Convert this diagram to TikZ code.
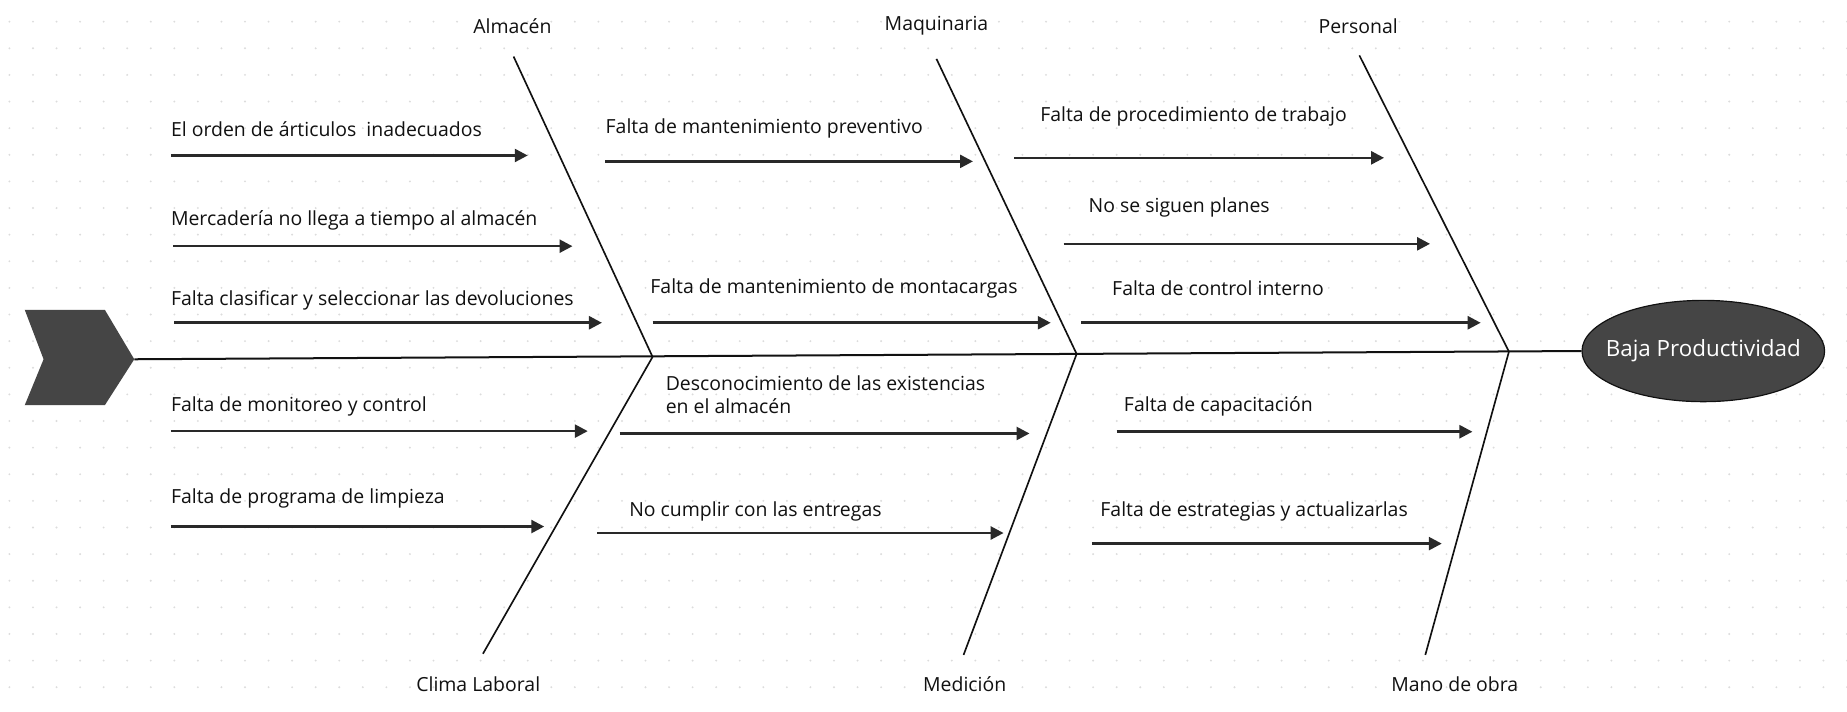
\documentclass[tikz,border=0pt]{standalone}
\usepackage{fontspec}
\setmainfont{Open Sans}
\usetikzlibrary{shapes.geometric,arrows.meta}
\definecolor{ink}{HTML}{111111}
\definecolor{dotc}{HTML}{DCDCDC}
\definecolor{headfill}{HTML}{454545}
\begin{document}
\begin{tikzpicture}[x=1pt,y=-1pt,
  cause/.style={anchor=west, inner sep=0pt, font=\fontsize{16.5}{20}\selectfont, text=ink},
  cat/.style={inner sep=0pt, font=\fontsize{16.5}{20}\selectfont, text=ink},
  bone/.style={line width=1.4pt, draw=ink},
  spine/.style={line width=1.7pt, draw=ink},
  causearrow/.style={line width=2.2pt, draw=ink!90, -{Triangle[length=11pt,width=11pt]}},
]
\useasboundingbox (0,0) rectangle (1568,604);
\fill[white] (0,0) rectangle (1568,604);
% dot grid
\foreach \i in {0,...,78}{
  \foreach \j in {0,...,26}{
    \fill[dotc] (\i*20+8, \j*22.6+18.4) circle (0.9pt);
  }
}
% head and effect
\coordinate (c1) at (21,263);
\coordinate (c2) at (89,263);
\coordinate (tail) at (114,305);
\coordinate (c4) at (89,344);
\coordinate (c5) at (21,344);
\coordinate (c6) at (37,305);
\fill[headfill] (c1) -- (c2) -- (tail) -- (c4) -- (c5) -- (c6) -- cycle;
\node[ellipse, draw=ink, line width=1pt, fill=headfill, minimum width=206pt, minimum height=86pt, inner sep=0pt] (ef) at (1446,298) {};
\node[text=white, inner sep=0pt, font=\fontsize{19}{23}\selectfont] (eft) at (ef.center) {Baja Productividad};
\draw[spine] (tail) -- (ef.west);

% junctions and bone ends
\coordinate (j1) at (554,303);
\coordinate (j2) at (914,300.5);
\coordinate (j3) at (1281,298.5);
\coordinate (t1) at (436,48);
\coordinate (t2) at (795,50);
\coordinate (t3) at (1154,47);
\coordinate (b1) at (410,555);
\coordinate (b2) at (818,556);
\coordinate (b3) at (1210,556);
\draw[bone] (t1) -- (j1);
\draw[bone] (t2) -- (j2);
\draw[bone] (t3) -- (j3);
\draw[bone] (j1) -- (b1);
\draw[bone] (j2) -- (b2);
\draw[bone] (j3) -- (b3);

% category labels
\node[cat] (lalm) at (435,22) {Almacén};
\node[cat] (lmaq) at (795,22) {Maquinaria};
\node[cat] (lper) at (1153,22) {Personal};
\node[cat] (lcli) at (406,581) {Clima Laboral};
\node[cat] (lmed) at (819,581) {Medición};
\node[cat] (lman) at (1235,581) {Mano de obra};

% causes: Almacén
\node[cause] (a1) at (145,110) {El orden de árticulos\ \ inadecuados};
\coordinate (a1s) at (145,132); \coordinate (a1e) at (448,132);
\draw[causearrow] (a1s) -- (a1e);
\node[cause] (a2) at (145,187) {Mercadería no llega a tiempo al almacén};
\coordinate (a2s) at (147,209); \coordinate (a2e) at (486,209);
\draw[causearrow] (a2s) -- (a2e);
\node[cause] (a3) at (145,255) {Falta clasificar y seleccionar las devoluciones};
\coordinate (a3s) at (148,274); \coordinate (a3e) at (511,274);
\draw[causearrow] (a3s) -- (a3e);
% Clima Laboral
\node[cause] (c1t) at (145,345) {Falta de monitoreo y control};
\coordinate (k1s) at (145,366); \coordinate (k1e) at (499,366);
\draw[causearrow] (k1s) -- (k1e);
\node[cause] (c2t) at (145,423) {Falta de programa de limpieza};
\coordinate (k2s) at (145,447); \coordinate (k2e) at (462,447);
\draw[causearrow] (k2s) -- (k2e);
% Maquinaria
\node[cause] (m1) at (514,109) {Falta de mantenimiento preventivo};
\coordinate (m1s) at (514,137); \coordinate (m1e) at (826,137);
\draw[causearrow] (m1s) -- (m1e);
\node[cause] (m2) at (552,245) {Falta de mantenimiento de montacargas};
\coordinate (m2s) at (554,274); \coordinate (m2e) at (892,274);
\draw[causearrow] (m2s) -- (m2e);
% Medición
\node[cause, align=left] (d1) at (565,335) {Desconocimiento de las existencias\\en el almacén};
\coordinate (d1s) at (526,368); \coordinate (d1e) at (874,368);
\draw[causearrow] (d1s) -- (d1e);
\node[cause] (d2) at (534,434) {No cumplir con las entregas};
\coordinate (d2s) at (507,452.5); \coordinate (d2e) at (852,452.5);
\draw[causearrow] (d2s) -- (d2e);
% Personal
\node[cause] (p1) at (883,99) {Falta de procedimiento de trabajo};
\coordinate (p1s) at (861,134); \coordinate (p1e) at (1175,134);
\draw[causearrow] (p1s) -- (p1e);
\node[cause] (p2) at (924,176) {No se siguen planes};
\coordinate (p2s) at (903,207); \coordinate (p2e) at (1214,207);
\draw[causearrow] (p2s) -- (p2e);
\node[cause] (p3) at (944,245) {Falta de control interno};
\coordinate (p3s) at (918,274); \coordinate (p3e) at (1257,274);
\draw[causearrow] (p3s) -- (p3e);
% Mano de obra
\node[cause] (o1) at (954,345) {Falta de capacitación};
\coordinate (o1s) at (948,366.5); \coordinate (o1e) at (1250,366.5);
\draw[causearrow] (o1s) -- (o1e);
\node[cause] (o2) at (934,434) {Falta de estrategias y actualizarlas};
\coordinate (o2s) at (927,461.5); \coordinate (o2e) at (1224,461.5);
\draw[causearrow] (o2s) -- (o2e);
\end{tikzpicture}
\end{document}
